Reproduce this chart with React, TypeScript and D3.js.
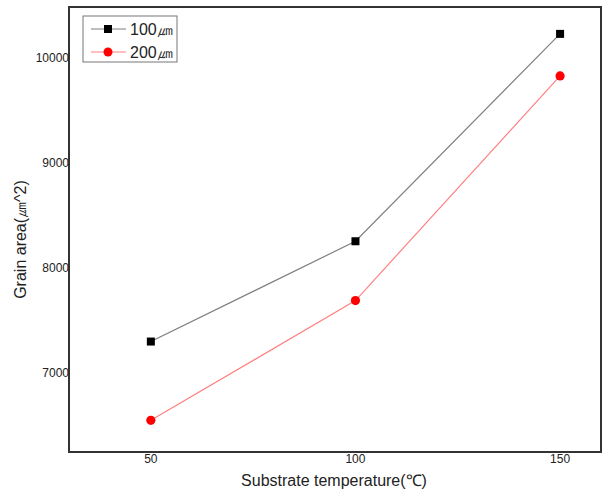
import React from "react";
import * as d3 from "d3";

const temps = [50, 100, 150];
const series100 = [7300, 8255, 10230];
const series200 = [6550, 7690, 9830];
const xTicks = [50, 100, 150];
const yTicks = [7000, 8000, 9000, 10000];
const legendLabels = ["100㎛", "200㎛"];

export default function App() {
  const W = 608, H = 496;
  const left = 69, right = 601, top = 7, bottom = 452;
  const x = d3.scaleLinear().domain([30, 160]).range([left, right]);
  const y = d3.scaleLinear().domain([6248, 10486]).range([bottom, top]);
  const line = d3.line<number>().x((_, i) => x(temps[i])).y((d) => y(d));
  const font = "Arial, 'Liberation Sans', sans-serif";
  return (
    <svg width={W} height={H} style={{ position: "absolute", left: 0, top: 0 }}>
      <rect x={0} y={0} width={W} height={H} fill="#fff" />
      <path d={line(series100) || ""} fill="none" stroke="#7f7f7f" strokeWidth={1.2} />
      <path d={line(series200) || ""} fill="none" stroke="#ff8080" strokeWidth={1.2} />
      {series100.map((v, i) => (
        <rect key={"a" + i} x={x(temps[i]) - 4} y={y(v) - 4} width={8} height={8} fill="#000" />
      ))}
      {series200.map((v, i) => (
        <circle key={"b" + i} cx={x(temps[i])} cy={y(v)} r={4.6} fill="#ff0000" />
      ))}
      <rect x={left} y={top} width={right - left} height={bottom - top} fill="none" stroke="#333" strokeWidth={2} />
      {yTicks.map((t) => (
        <text key={t} x={left} y={y(t)} textAnchor="end" dominantBaseline="central" fontFamily={font} fontSize={12} fill="#222">
          {t}
        </text>
      ))}
      {xTicks.map((t) => (
        <text key={t} x={x(t)} y={463} textAnchor="middle" fontFamily={font} fontSize={12} fill="#222">
          {t}
        </text>
      ))}
      <text x={334} y={486} textAnchor="middle" fontFamily={font} fontSize={16} fill="#222">
        Substrate temperature(℃)
      </text>
      <text transform={`translate(26,${(top + bottom) / 2 + 10}) rotate(-90)`} textAnchor="middle" fontFamily={font} fontSize={16} fill="#222">
        Grain area(㎛^2)
      </text>
      <rect x={83} y={16} width={94} height={46} fill="#fff" stroke="#777" strokeWidth={1} />
      {legendLabels.map((lab, i) => {
        const ly = 29 + i * 23;
        return (
          <g key={lab}>
            <line x1={91} x2={126} y1={ly} y2={ly} stroke={i === 0 ? "#7f7f7f" : "#ff8080"} strokeWidth={1.2} />
            {i === 0 ? (
              <rect x={104} y={ly - 4} width={8} height={8} fill="#000" />
            ) : (
              <circle cx={108} cy={ly} r={4.5} fill="#ff0000" />
            )}
            <text x={130} y={ly} dominantBaseline="central" fontFamily={font} fontSize={16} fill="#222">
              {lab}
            </text>
          </g>
        );
      })}
    </svg>
  );
}
